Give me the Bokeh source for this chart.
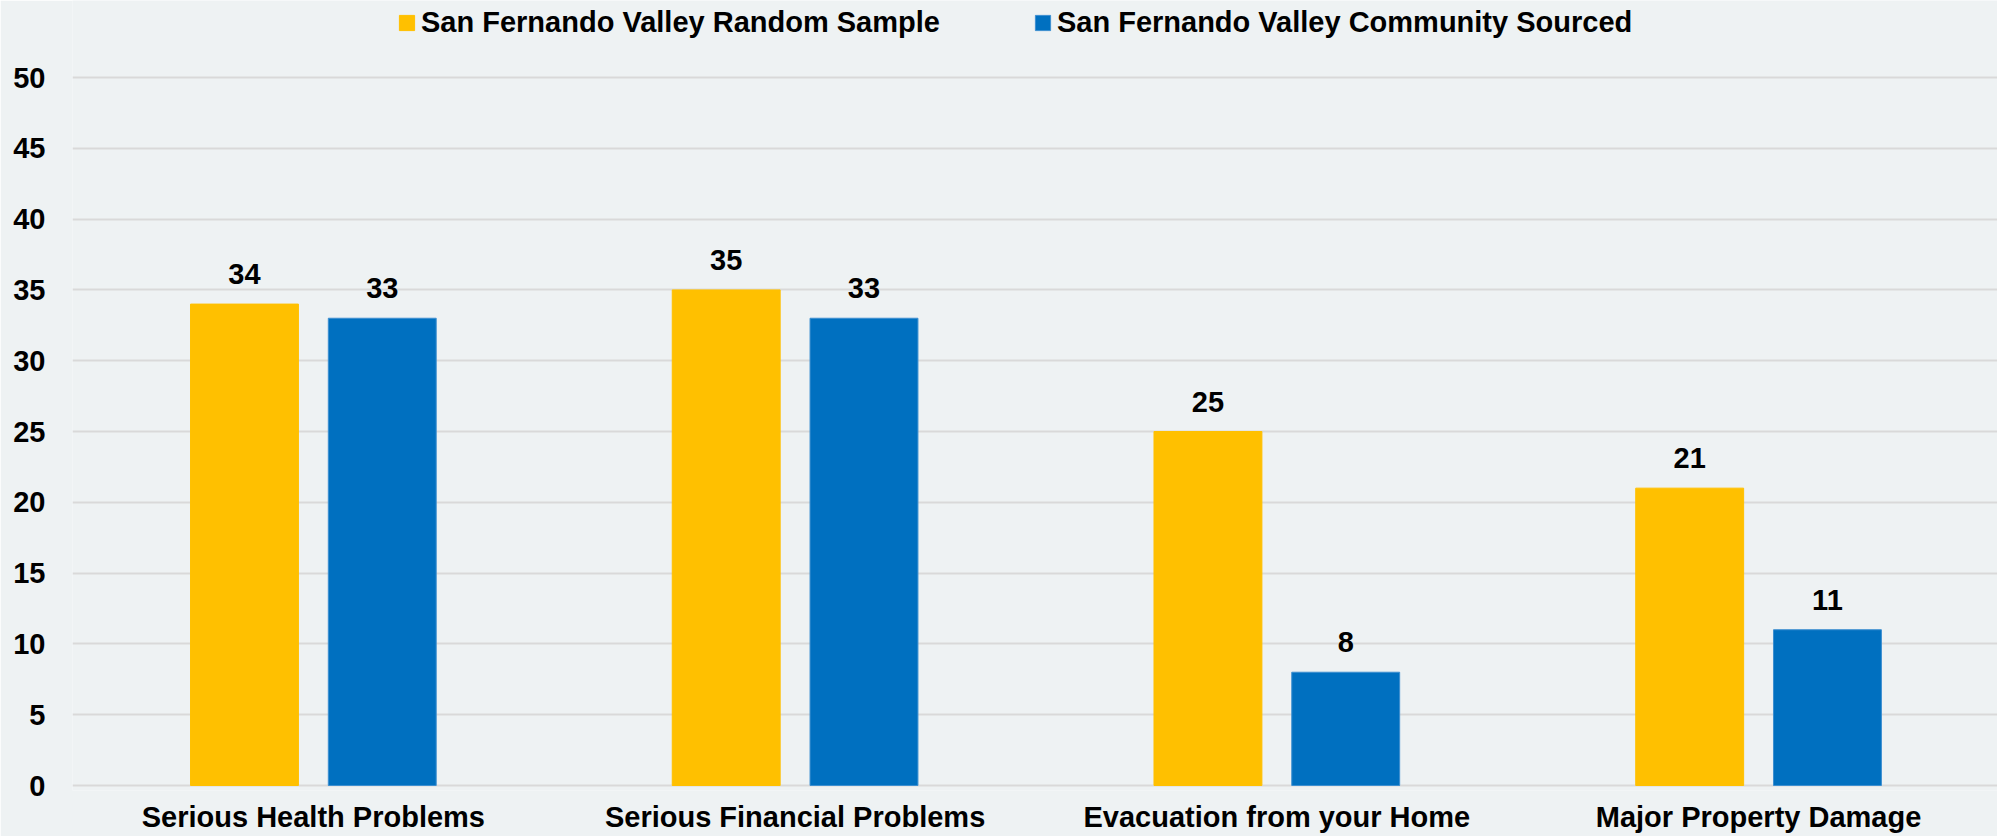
from bokeh.plotting import figure
from bokeh.models import Range1d, FixedTicker, ColumnDataSource, Legend, LegendItem
from bokeh.core.properties import value
from bokeh.embed import file_html
from bokeh.resources import INLINE

categories = ["Serious Health Problems", "Serious Financial Problems",
              "Evacuation from your Home", "Major Property Damage"]
series_names = ["San Fernando Valley Random Sample", "San Fernando Valley Community Sourced"]
random_sample = [34, 35, 25, 21]
community_sourced = [33, 33, 8, 11]
y_ticks = [0, 5, 10, 15, 20, 25, 30, 35, 40, 45, 50]

YELLOW = "#FFC000"
BLUE = "#0070C0"
BG = "#EEF2F3"
FONT = "Liberation Sans"

xs = list(range(len(categories)))
offset = 0.143
bw = 0.224

p = figure(width=1997, height=836, output_backend="svg", toolbar_location=None,
           x_range=Range1d(-0.5, 3.496), y_range=Range1d(-0.353, 55.44),
           min_border_left=72, min_border_right=0, min_border_top=0, min_border_bottom=46)
p.background_fill_color = BG
p.border_fill_color = BG
p.outline_line_color = None

src1 = ColumnDataSource(dict(x=[x - offset for x in xs], top=random_sample,
                             lab=[str(v) for v in random_sample]))
src2 = ColumnDataSource(dict(x=[x + offset for x in xs], top=community_sourced,
                             lab=[str(v) for v in community_sourced]))

r1 = p.vbar(x="x", top="top", bottom=0, width=bw, source=src1, fill_color=YELLOW, line_color=YELLOW, line_width=1)
r2 = p.vbar(x="x", top="top", bottom=0, width=bw, source=src2, fill_color=BLUE, line_color="#3d8fd0", line_width=1)

for s in (src1, src2):
    p.text(x="x", y="top", text="lab", source=s, text_font=value(FONT), text_font_style="bold",
           text_font_size="29px", text_color="#000000", text_align="center",
           text_baseline="bottom", y_offset=-20)

p.xgrid.grid_line_color = None
p.ygrid.grid_line_color = "#D9D9D9"
p.ygrid.grid_line_width = 2
p.ygrid.ticker = FixedTicker(ticks=y_ticks)

p.yaxis.ticker = FixedTicker(ticks=y_ticks)
p.yaxis.axis_line_color = None
p.yaxis.major_tick_line_color = None
p.yaxis.minor_tick_line_color = None
p.yaxis.major_tick_in = 0
p.yaxis.major_tick_out = 0
p.yaxis.major_label_standoff = 27
p.yaxis.major_label_text_font = FONT
p.yaxis.major_label_text_font_style = "bold"
p.yaxis.major_label_text_font_size = "29px"
p.yaxis.major_label_text_color = "#000000"

p.xaxis.ticker = FixedTicker(ticks=xs)
p.xaxis.major_label_overrides = {i: c for i, c in enumerate(categories)}
p.xaxis.axis_line_color = None
p.xaxis.major_tick_line_color = None
p.xaxis.minor_tick_line_color = None
p.xaxis.major_tick_in = 0
p.xaxis.major_tick_out = 0
p.xaxis.major_label_standoff = 10
p.xaxis.major_label_text_font = FONT
p.xaxis.major_label_text_font_style = "bold"
p.xaxis.major_label_text_font_size = "29px"
p.xaxis.major_label_text_color = "#000000"

legend = Legend(items=[LegendItem(label=series_names[0], renderers=[r1]),
                       LegendItem(label=series_names[1], renderers=[r2])],
                orientation="horizontal", location=(325, 751),
                glyph_width=19, glyph_height=19, label_standoff=5, spacing=93,
                padding=0, margin=0, border_line_color=None, background_fill_alpha=0,
                label_text_font=FONT, label_text_font_style="bold",
                label_text_font_size="29px", label_text_color="#000000")
p.add_layout(legend)

open("out.html", "w").write(file_html(p, INLINE))
